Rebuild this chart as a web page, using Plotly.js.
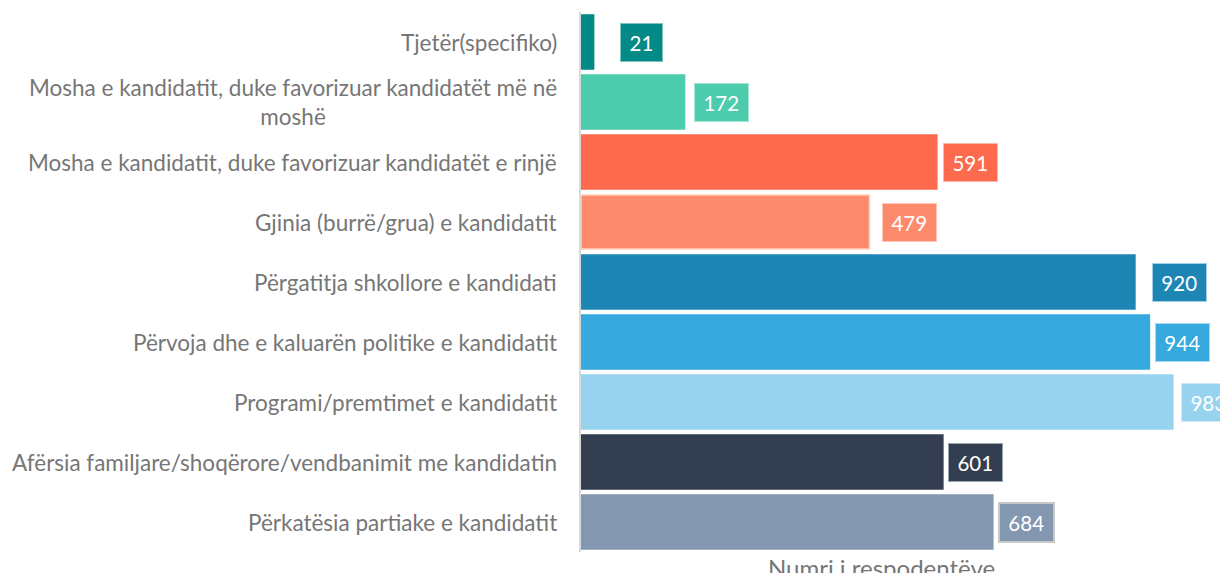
<!DOCTYPE html>
<html>
<head>
<meta charset="utf-8">
<script src="https://cdn.plot.ly/plotly-3.0.1.min.js"></script>
<style>html,body{margin:0;padding:0;background:#fff;}#chart{width:1220px;height:573px;}</style>
</head>
<body>
<div id="chart"></div>
<script>
// Categories listed top to bottom
const categories = [
  "Tjetër(specifiko)",
  "Mosha e kandidatit, duke favorizuar kandidatët më në<br>moshë",
  "Mosha e kandidatit, duke favorizuar kandidatët e rinjë",
  "Gjinia (burrë/grua) e kandidatit",
  "Përgatitja shkollore e kandidati",
  "Përvoja dhe e kaluarën politike e kandidatit",
  "Programi/premtimet e kandidatit",
  "Afërsia familjare/shoqërore/vendbanimit me kandidatin",
  "Përkatësia partiake e kandidatit"
];
const values = [21, 172, 591, 479, 920, 944, 983, 601, 684];
const xAxisTitle = "Numri i respodentëve";

// Styles
const barColors = ["#038a86", "#4dcbad", "#fd6a4e", "#fe8a6d", "#1e86b5", "#36a9de", "#97d3ee", "#333e50", "#8497b0"];
const barLineColors = ["#038a86", "#4dcbad", "#fd6a4e", "#ffcfb8", "#1e86b5", "#36a9de", "#97d3ee", "#333e50", "#8497b0"];
const labelBorderColors = ["#7cc4c1", "#a8e6d6", "#ffb5a5", "#ffc6b5", "#9fd0e6", "#a6d9f0", "#cbeaf7", "#9aa3b0", "#c8c8c8"];
const labelBorderWidths = [1, 1, 1, 1, 1, 1, 1, 1, 2];
const labelGaps = [26, 9, 6, 13, 17, 6, 8, 5, 5];

const FONT = "Lato, 'Open Sans', sans-serif";
const textGray = "#767676";

const trace = {
  type: "bar",
  orientation: "h",
  y: categories,
  x: values,
  marker: { color: barColors, line: { color: barLineColors, width: 1.5 } },
  hoverinfo: "x+y",
  showlegend: false
};

const annotations = [];
// category labels
categories.forEach((c, i) => {
  annotations.push({
    xref: "paper", yref: "y", x: 0, y: c,
    xanchor: "right", yanchor: "middle", xshift: -22,
    text: c, showarrow: false, align: "center",
    font: { family: FONT, size: 22.5, color: textGray }
  });
});
// value labels
values.forEach((v, i) => {
  const s = String(v);
  annotations.push({
    xref: "x", yref: "y", x: v, y: categories[i],
    xanchor: "left", yanchor: "middle", xshift: labelGaps[i],
    text: s, showarrow: false,
    bgcolor: barColors[i], bordercolor: labelBorderColors[i], borderwidth: labelBorderWidths[i],
    borderpad: 7, width: s.length * 11.5 + 4, height: 23,
    font: { family: FONT, size: 20.5, color: "#ffffff" }
  });
});
// x-axis title
annotations.push({
  xref: "paper", yref: "paper", x: 0.5, y: 0,
  xanchor: "center", yanchor: "top", yshift: 1,
  text: xAxisTitle, showarrow: false,
  font: { family: FONT, size: 24, color: textGray }
});

const layout = {
  width: 1220, height: 573,
  margin: { l: 581, r: 39, t: 12, b: 21 },
  paper_bgcolor: "#ffffff", plot_bgcolor: "#ffffff",
  bargap: 0.1,
  xaxis: {
    range: [0, 996.5], showgrid: false, zeroline: false, showticklabels: false,
    showline: false, ticks: "", fixedrange: true
  },
  yaxis: {
    categoryorder: "array", categoryarray: categories, autorange: "reversed",
    showticklabels: false, showgrid: false, zeroline: false,
    showline: true, linecolor: "#d9d9d9", linewidth: 2, ticks: ""
  },
  annotations: annotations,
  font: { family: FONT, color: textGray }
};

Plotly.newPlot("chart", [trace], layout, { displayModeBar: false, staticPlot: true });
</script>
</body>
</html>
